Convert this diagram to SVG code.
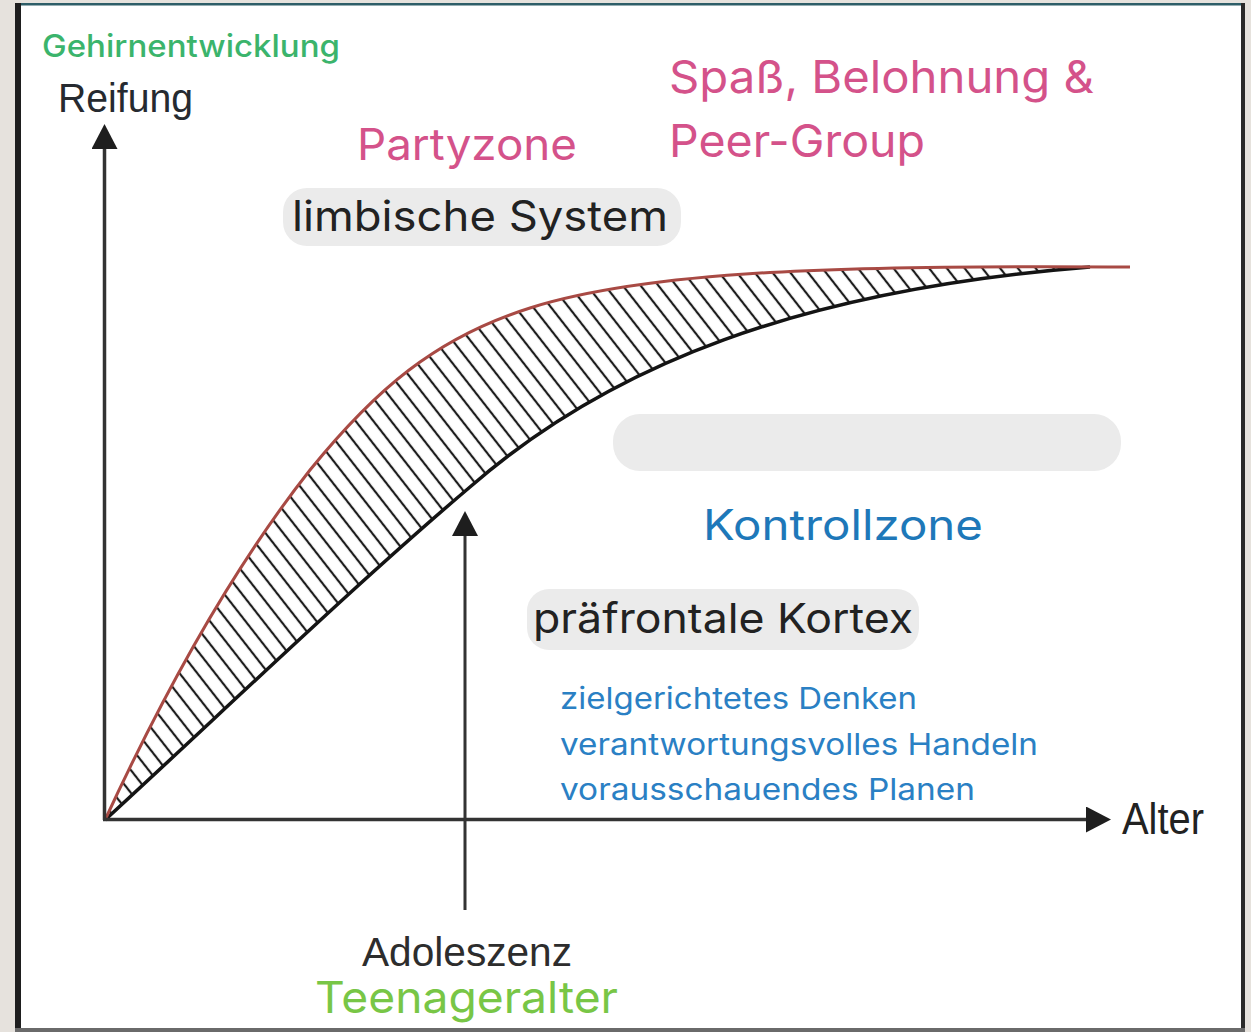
<svg xmlns="http://www.w3.org/2000/svg" width="1251" height="1032" viewBox="0 0 1251 1032">
<style>
.sans{font-family:"Liberation Sans",Arial,sans-serif;}
.apt{font-family:Inter,"Noto Sans","Liberation Sans",sans-serif;}
.pink{fill:#d4528a;}
.blue{fill:#1e78b9;}
.dark{fill:#262a30;}
.pill{fill:#ebebeb;}
.axis{stroke:#333;stroke-width:3.5;fill:none;}
</style>
<defs>
<marker id="arr" markerUnits="userSpaceOnUse" markerWidth="26" markerHeight="26" refX="12" refY="13" orient="auto">
<path d="M0,0 L25,13 L0,26 Z" fill="#1e1e1e"/>
</marker>
<pattern id="hatch" width="14" height="14" patternUnits="userSpaceOnUse" patternTransform="rotate(-38)">
<line x1="7" y1="-1" x2="7" y2="15" stroke="#1c1c1c" stroke-width="2.2"/>
</pattern>
</defs>
<rect x="0" y="0" width="1251" height="1032" fill="#e6e2dd"/>
<rect x="15" y="3" width="1230" height="1029" fill="#ffffff"/>
<rect x="15" y="3" width="1230" height="2.5" fill="#2e5e68"/>
<rect x="15" y="3" width="6" height="1029" fill="#1e1e1e"/>
<rect x="1241" y="3" width="4" height="1029" fill="#2a2a2a"/>
<rect x="15" y="1028" width="1230" height="4" fill="#6a6a6a"/>

<g id="curves">
<path d="M105,820 C165,690 235,565 310,470 C375,390 435,338 530,308 C650,270 850,265 1090,267 L1090,267 C800,290 610,365 470,487 C360,580 230,705 105,820 Z" fill="url(#hatch)"/>
<path d="M105,820 C230,705 360,580 470,487 C610,365 800,290 1090,267" fill="none" stroke="#141414" stroke-width="3.5"/>
<path d="M105,820 C165,690 235,565 310,470 C375,390 435,338 530,308 C650,270 850,265 1130,267" fill="none" stroke="#a84a44" stroke-width="3"/>
</g>

<g id="connectors">
<line class="axis" x1="104.5" y1="820" x2="104.5" y2="137" marker-end="url(#arr)"/>
<line class="axis" x1="103" y1="819.5" x2="1098" y2="819.5" marker-end="url(#arr)"/>
<line class="axis" x1="465" y1="910" x2="465" y2="524" marker-end="url(#arr)" style="stroke-width:3"/>
</g>

<g id="gehirnentwicklung"><text class="apt" x="42" y="57" font-size="31" font-weight="500" fill="#3bb46c" textLength="298" lengthAdjust="spacingAndGlyphs">Gehirnentwicklung</text></g>
<g id="reifung"><text class="sans dark" x="58" y="112" font-size="40" textLength="135" lengthAdjust="spacingAndGlyphs">Reifung</text></g>
<g id="partyzone"><text class="apt pink" x="357" y="160" font-size="44" textLength="220" lengthAdjust="spacingAndGlyphs">Partyzone</text></g>
<g id="spass"><text class="apt pink" x="669" y="93" font-size="45" textLength="425" lengthAdjust="spacingAndGlyphs">Spaß, Belohnung &amp;</text>
<text class="apt pink" x="669" y="157" font-size="45" textLength="256" lengthAdjust="spacingAndGlyphs">Peer-Group</text></g>
<g id="limbisch"><rect class="pill" x="283" y="188" width="398" height="58" rx="24"/>
<text class="apt" x="292" y="231" font-size="42" fill="#222" textLength="376" lengthAdjust="spacingAndGlyphs">limbische System</text></g>
<g id="leer"><rect class="pill" x="613" y="414" width="508" height="57" rx="27"/></g>
<g id="kontrollzone"><text class="apt blue" x="703" y="540" font-size="42" textLength="280" lengthAdjust="spacingAndGlyphs">Kontrollzone</text></g>
<g id="praefrontal"><rect class="pill" x="527" y="589" width="392" height="61" rx="22"/>
<text class="apt" x="533" y="633" font-size="41" fill="#222" textLength="380" lengthAdjust="spacingAndGlyphs">präfrontale Kortex</text></g>
<g id="funktionen"><text class="apt" x="560" y="709" font-size="30" fill="#2a80c4" textLength="357" lengthAdjust="spacingAndGlyphs">zielgerichtetes Denken</text>
<text class="apt" x="560" y="755" font-size="30" fill="#2a80c4" textLength="478" lengthAdjust="spacingAndGlyphs">verantwortungsvolles Handeln</text>
<text class="apt" x="560" y="800" font-size="30" fill="#2a80c4" textLength="415" lengthAdjust="spacingAndGlyphs">vorausschauendes Planen</text></g>
<g id="alter"><text class="sans" x="1122" y="834" font-size="44" fill="#222" textLength="82" lengthAdjust="spacingAndGlyphs">Alter</text></g>
<g id="adoleszenz"><text class="sans" x="362" y="966" font-size="40" fill="#2d2d2d" textLength="210" lengthAdjust="spacingAndGlyphs">Adoleszenz</text></g>
<g id="teenager"><text class="apt" x="315" y="1013" font-size="44" fill="#78c646" textLength="303" lengthAdjust="spacingAndGlyphs">Teenageralter</text></g>
</svg>
